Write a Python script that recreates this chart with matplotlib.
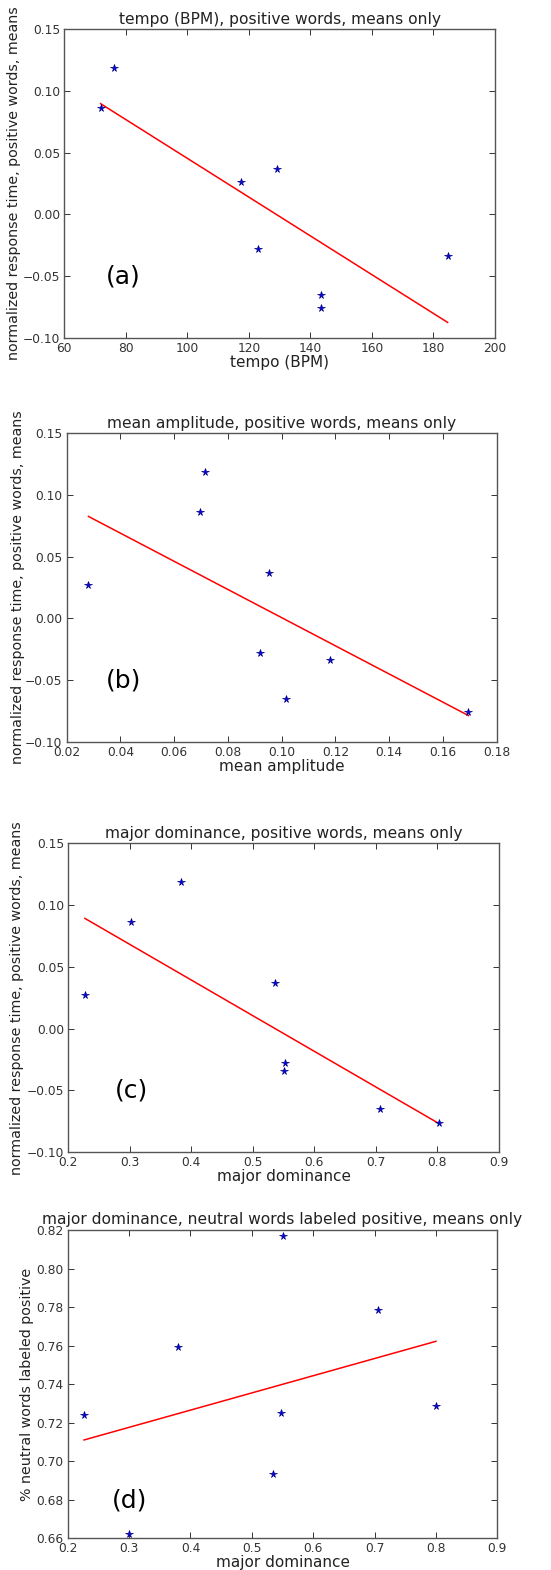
"""
Four scatter panels (means only) with least-squares fit lines, stacked vertically.
"""

import numpy as np
import matplotlib
matplotlib.use("Agg")
import matplotlib.pyplot as plt

plt.rcParams['font.family'] = 'DejaVu Sans'
plt.rcParams['xtick.direction'] = 'in'
plt.rcParams['ytick.direction'] = 'in'
plt.rcParams['xtick.top'] = True
plt.rcParams['ytick.right'] = True
plt.rcParams['xtick.major.size'] = 4
plt.rcParams['ytick.major.size'] = 4

# response time means (shared by panels a-c)
tempo_bpm = [71.8, 76.1, 117.4, 123.1, 129.0, 143.5, 143.5, 184.6]
rt_tempo = [0.0865, 0.119, 0.0265, -0.028, 0.037, -0.065, -0.076, -0.034]

mean_amp = [0.0281, 0.0696, 0.0715, 0.0954, 0.0918, 0.1016, 0.118, 0.1695]
rt_amp = [0.027, 0.0865, 0.119, 0.037, -0.028, -0.065, -0.034, -0.076]

major_dom = [0.227, 0.3024, 0.3826, 0.5365, 0.5527, 0.5505, 0.7071, 0.8019]
rt_major = [0.027, 0.0865, 0.119, 0.037, -0.028, -0.034, -0.065, -0.076]

major_dom_d = [0.2266, 0.300, 0.380, 0.534, 0.548, 0.5505, 0.705, 0.800]
neutral_pos = [0.7238, 0.6622, 0.7593, 0.6936, 0.7249, 0.8169, 0.7783, 0.7285]

rt_label = "normalized response time, positive words, means"

panels = [
    # x, y, title, xlabel, ylabel, xlim, ylim, tag
    (tempo_bpm, rt_tempo, "tempo (BPM), positive words, means only", "tempo (BPM)",
     rt_label, (60, 200), (-0.10, 0.15), "(a)"),
    (mean_amp, rt_amp, "mean amplitude, positive words, means only", "mean amplitude",
     rt_label, (0.02, 0.18), (-0.10, 0.15), "(b)"),
    (major_dom, rt_major, "major dominance, positive words, means only", "major dominance",
     rt_label, (0.2, 0.9), (-0.10, 0.15), "(c)"),
    (major_dom_d, neutral_pos, "major dominance, neutral words labeled positive, means only",
     "major dominance", "% neutral words labeled positive", (0.2, 0.9), (0.66, 0.82), "(d)"),
]

# axes boxes in pixels: left, right, top, bottom
boxes = [
    (64.3, 495.0, 29.3, 337.7),
    (66.7, 496.7, 433.3, 741.7),
    (68.3, 499.0, 843.3, 1152.3),
    (67.7, 497.3, 1230.0, 1538.3),
]
tag_pos = [(0.137, 0.198), (0.132, 0.20), (0.146, 0.20), (0.145, 0.124)]
ylabel_x = [-0.101, -0.098, -0.102, -0.079]

W, H = 551, 1570
fig = plt.figure(figsize=(W / 100, H / 100), dpi=100, facecolor='white')

for (x, y, title, xlab, ylab, xlim, ylim, tag), (l, r, t, b), tp, ylx in zip(
        panels, boxes, tag_pos, ylabel_x):
    ax = fig.add_axes([l / W, 1 - b / H, (r - l) / W, (b - t) / H])
    x = np.array(x)
    y = np.array(y)

    # least squares fit, drawn over the data range
    slope, icpt = np.polyfit(x, y, 1)
    xs = np.array([x.min(), x.max()])
    ax.plot(xs, slope * xs + icpt, color='red', linewidth=1.1)
    ax.plot(x, y, '*', color='blue', markeredgecolor='#000080',
            markeredgewidth=0.5, markersize=5.5)

    ax.set_xlim(*xlim)
    ax.set_ylim(*ylim)
    ax.set_title(title, fontsize=11.2, pad=4, color='#222222')
    ax.set_xlabel(xlab, fontsize=11, color='#222222')
    ax.set_ylabel(ylab, fontsize=10.3, color='#222222')
    ax.xaxis.set_label_coords(0.5, -0.055)
    ax.yaxis.set_label_coords(ylx, 0.5)
    ax.tick_params(labelsize=8.8, colors='#333333', width=0.7, pad=3)
    for s in ax.spines.values():
        s.set_color('#555555')
        s.set_linewidth(1.0)

    ax.text(tp[0], tp[1], tag, transform=ax.transAxes, fontsize=18,
            ha='center', va='center', color='black')

fig.savefig("out.png", dpi=100, facecolor='white')
plt.close(fig)
